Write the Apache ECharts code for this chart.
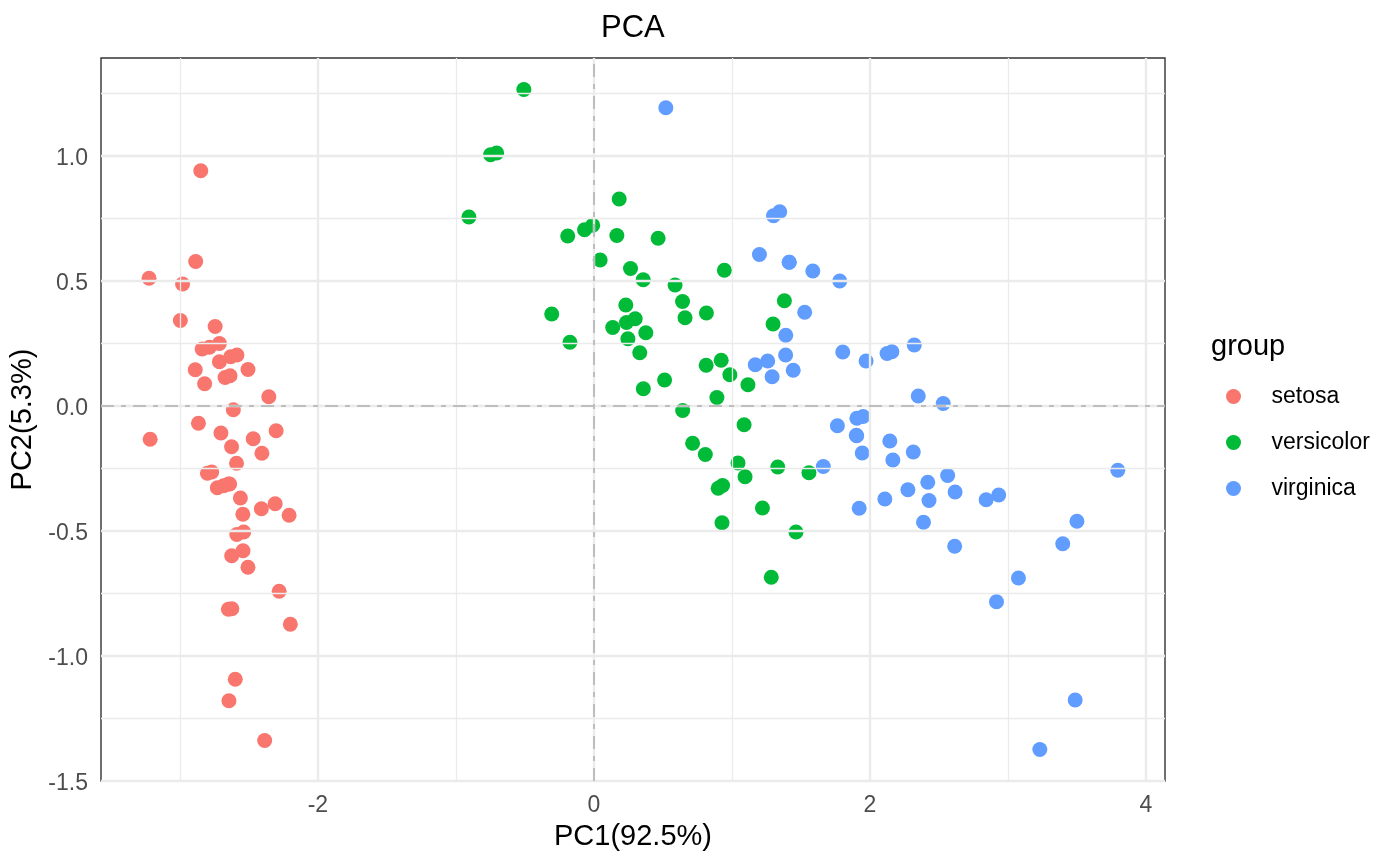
<!DOCTYPE html>
<html>
<head>
<meta charset="utf-8">
<title>PCA</title>
<script src="https://cdn.jsdelivr.net/npm/echarts@6/dist/echarts.min.js"></script>
<style>
  html, body { margin: 0; padding: 0; background: #fff; }
  #chart-panel { width: 1400px; height: 866px; }
</style>
</head>
<body>
<div id="chart-panel"></div>
<script>
// PC scores per species (PC1, PC2)
const setosaPC1 = [-2.684, -2.714, -2.889, -2.745, -2.729, -2.281, -2.821, -2.626, -2.886, -2.673,
  -2.507, -2.613, -2.786, -3.224, -2.645, -2.386, -2.624, -2.648, -2.200, -2.588,
  -2.310, -2.544, -3.216, -2.303, -2.356, -2.507, -2.469, -2.562, -2.640, -2.632,
  -2.587, -2.410, -2.649, -2.599, -2.637, -2.866, -2.625, -2.801, -2.981, -2.590,
  -2.770, -2.849, -2.997, -2.406, -2.209, -2.714, -2.538, -2.839, -2.543, -2.703]
const setosaPC2 = [-0.319, 0.177, 0.145, 0.318, -0.327, -0.741, 0.089, -0.163, 0.578, 0.114,
  -0.645, -0.015, 0.235, 0.511, -1.179, -1.338, -0.811, -0.312, -0.873, -0.514,
  -0.391, -0.433, -0.133, -0.099, 0.037, 0.146, -0.131, -0.368, -0.312, 0.197,
  0.204, -0.411, -0.813, -1.093, 0.121, -0.069, -0.599, -0.269, 0.488, -0.229,
  -0.264, 0.941, 0.342, -0.189, -0.437, 0.250, -0.504, 0.228, -0.579, -0.108]

const versicolorPC1 = [1.285, 0.932, 1.464, 0.183, 1.088, 0.642, 1.095, -0.749, 1.044, -0.009,
  -0.508, 0.512, 0.265, 0.985, -0.174, 0.928, 0.660, 0.236, 0.945, 0.045,
  1.116, 0.358, 1.298, 0.922, 0.715, 0.900, 1.332, 1.558, 0.813, -0.306,
  -0.068, -0.190, 0.136, 1.380, 0.588, 0.807, 1.221, 0.815, 0.246, 0.166,
  0.465, 0.891, 0.231, -0.705, 0.357, 0.332, 0.376, 0.643, -0.906, 0.299]
const versicolorPC2 = [-0.685, -0.318, -0.504, 0.828, -0.075, 0.418, -0.283, 1.005, -0.228, 0.723,
  1.266, 0.104, 0.550, 0.125, 0.255, -0.467, 0.353, 0.334, 0.543, 0.584,
  0.085, 0.069, 0.328, 0.183, -0.149, -0.329, -0.244, -0.267, 0.163, 0.368,
  0.705, 0.680, 0.314, 0.421, 0.484, -0.194, -0.408, 0.372, 0.269, 0.682,
  0.671, 0.034, 0.404, 1.012, 0.505, 0.213, 0.293, -0.018, 0.756, 0.349]

const virginicaPC1 = [2.531, 1.415, 2.617, 1.972, 2.350, 3.397, 0.521, 2.933, 2.321, 2.917,
  1.662, 1.803, 2.166, 1.346, 1.586, 1.904, 1.950, 3.487, 3.796, 1.301,
  2.428, 1.199, 3.500, 1.389, 2.275, 2.614, 1.259, 1.291, 2.124, 2.388,
  2.842, 3.231, 2.159, 1.444, 1.781, 3.076, 2.144, 1.905, 1.169, 2.108,
  2.314, 1.922, 1.415, 2.563, 2.419, 1.944, 1.527, 1.764, 1.901, 1.390]
const virginicaPC2 = [0.010, 0.575, -0.344, 0.180, 0.040, -0.551, 1.193, -0.356, 0.244, -0.783,
  -0.242, 0.216, -0.216, 0.777, 0.540, -0.119, -0.042, -1.176, -0.257, 0.761,
  -0.378, 0.606, -0.461, 0.204, -0.335, -0.561, 0.180, 0.117, 0.210, -0.465,
  -0.375, -1.374, 0.217, 0.143, 0.500, -0.688, -0.140, -0.049, 0.165, -0.372,
  -0.184, -0.409, 0.575, -0.278, -0.305, -0.188, 0.375, -0.079, -0.117, 0.283]

const groups = ["setosa", "versicolor", "virginica"]
const colors = ["#F8766D", "#00BA38", "#619CFF"]

const xTicks = [-2, 0, 2, 4]
const yTicks = [-1.5, -1.0, -0.5, 0.0, 0.5, 1.0]
const xMinor = [-3, -1, 1, 3]
const yMinor = [-1.25, -0.75, -0.25, 0.25, 0.75, 1.25]
const xRange = [-3.572, 4.138]
const yRange = [-1.5, 1.392]

const font = "Liberation Sans, Arial, sans-serif"

const zip = (a, b) => a.map((v, i) => [v, b[i]])
const seriesData = [
  zip(setosaPC1, setosaPC2),
  zip(versicolorPC1, versicolorPC2),
  zip(virginicaPC1, virginicaPC2)
]

const chart = echarts.init(document.getElementById("chart-panel"), null, { renderer: "canvas" })

// panel grid lines (major + minor) and the dashed reference lines at 0
const gridLines = []
xTicks.forEach(v => gridLines.push({ xAxis: v, lineStyle: { color: "#EBEBEB", width: 2.4, type: "solid" } }))
yTicks.forEach(v => gridLines.push({ yAxis: v, lineStyle: { color: "#EBEBEB", width: 2.4, type: "solid" } }))
xMinor.forEach(v => gridLines.push({ xAxis: v, lineStyle: { color: "#EBEBEB", width: 1.3, type: "solid" } }))
yMinor.forEach(v => gridLines.push({ yAxis: v, lineStyle: { color: "#EBEBEB", width: 1.3, type: "solid" } }))
const refLines = [
  { xAxis: 0, lineStyle: { color: "#BEBEBE", width: 2, type: [13, 7, 5, 7] } },
  { yAxis: 0, lineStyle: { color: "#BEBEBE", width: 2, type: [13, 7, 5, 7] } }
]

const options = {
  animation: false,
  textStyle: { fontFamily: font },
  title: [
    {
      text: "PCA",
      left: 601,
      top: 13,
      padding: 0,
      textStyle: { fontSize: 31, fontWeight: "normal", color: "#000", fontFamily: font }
    },
    {
      text: "group",
      left: 1211,
      top: 332,
      padding: 0,
      textStyle: { fontSize: 29, fontWeight: "normal", color: "#000", fontFamily: font }
    }
  ],
  legend: {
    data: groups,
    orient: "vertical",
    left: 1226,
    top: 385,
    padding: 0,
    icon: "circle",
    itemWidth: 66,
    itemHeight: 15,
    itemGap: 23,
    textStyle: { fontSize: 23, color: "#000", fontFamily: font }
  },
  grid: {
    left: 101,
    right: 235,
    top: 58,
    bottom: 85,
    show: true,
    borderColor: "#333333",
    borderWidth: 1.4,
    backgroundColor: "#fff"
  },
  xAxis: {
    type: "value",
    min: xRange[0],
    max: xRange[1],
    name: "PC1(92.5%)",
    nameLocation: "middle",
    nameGap: 41,
    nameTextStyle: { fontSize: 29, color: "#000", fontFamily: font },
    axisLine: { show: false },
    axisTick: { show: true, customValues: xTicks, length: 7, lineStyle: { color: "#333333", width: 1.6 } },
    axisLabel: {
      customValues: xTicks,
      margin: 13,
      fontSize: 23,
      color: "#4D4D4D",
      fontFamily: font,
      formatter: v => String(v)
    },
    splitLine: { show: false }
  },
  yAxis: {
    type: "value",
    min: yRange[0],
    max: yRange[1],
    name: "PC2(5.3%)",
    nameLocation: "middle",
    nameGap: 56,
    nameTextStyle: { fontSize: 29, color: "#000", fontFamily: font },
    axisLine: { show: false },
    axisTick: { show: true, customValues: yTicks, length: 7, lineStyle: { color: "#333333", width: 1.6 } },
    axisLabel: {
      customValues: yTicks,
      margin: 13,
      verticalAlign: "top",
      lineHeight: 23,
      padding: [-9, 0, 0, 0],
      fontSize: 23,
      color: "#4D4D4D",
      fontFamily: font,
      formatter: v => v.toFixed(1)
    },
    splitLine: { show: false }
  },
  series: [
    {
      type: "scatter",
      data: [],
      z: 1,
      silent: true,
      markLine: {
        silent: true,
        symbol: "none",
        label: { show: false },
        animation: false,
        data: gridLines.concat(refLines)
      }
    }
  ].concat(groups.map((g, i) => ({
    name: g,
    type: "scatter",
    z: 3,
    symbol: "circle",
    symbolSize: 15,
    itemStyle: { color: colors[i], opacity: 1 },
    data: seriesData[i]
  })))
}

chart.setOption(options)
window.addEventListener("resize", () => chart.resize())
</script>
</body>
</html>
